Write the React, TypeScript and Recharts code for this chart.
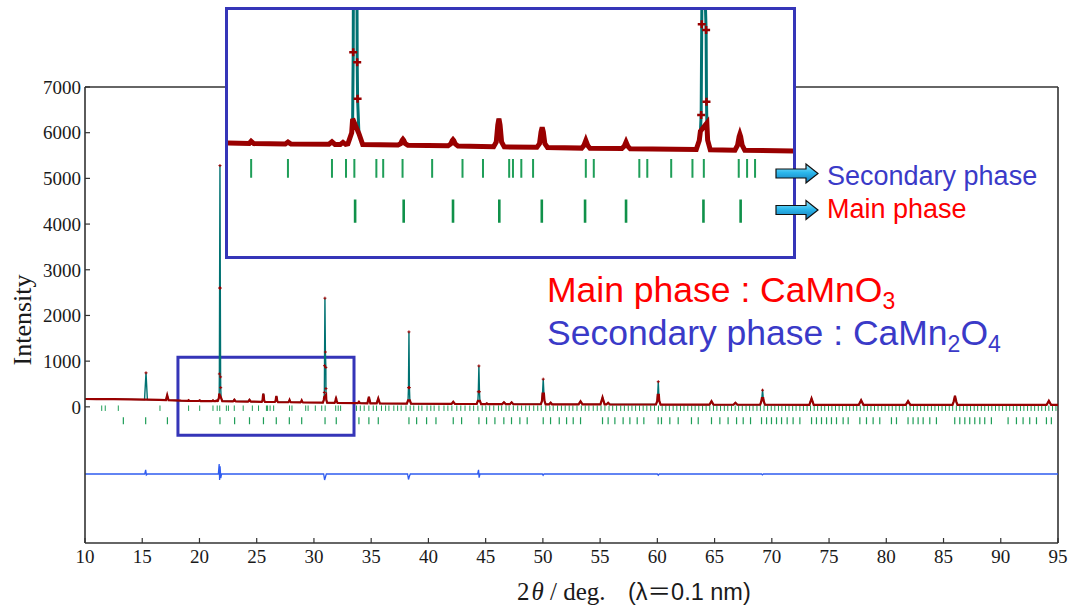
import React from 'react';
import { ComposedChart, Line, XAxis, YAxis, ReferenceLine, ReferenceArea } from 'recharts';

// ---- axis ticks ----
const xTicks = [10, 15, 20, 25, 30, 35, 40, 45, 50, 55, 60, 65, 70, 75, 80, 85, 90, 95];
const yTicks = [0, 1000, 2000, 3000, 4000, 5000, 6000, 7000];

// ---- observed / calculated profile [2theta, intensity] ----
const observedProfile: [number, number][] = [
  [10.0, 172], [11.0, 170], [12.5, 167], [14.0, 163], [15.2, 158], [15.33, 744], [15.45, 157],
  [16.5, 152], [17.07, 148], [17.18, 256], [17.3, 146], [18.4, 134],
  [19.0, 131], [19.05, 145], [19.12, 130], [19.95, 128], [20.02, 140], [20.1, 127],
  [21.1, 126], [21.18, 142], [21.26, 125], [21.4, 125], [21.47, 138], [21.54, 125],
  [21.6, 128], [21.7, 200], [21.725, 290], [21.74, 720], [21.76, 2600], [21.79, 5280],
  [21.82, 2600], [21.845, 655], [21.855, 420], [21.89, 195], [21.99, 124],
  [22.92, 121], [22.99, 130], [23.03, 152], [23.05, 158], [23.07, 152], [23.11, 130], [23.18, 120],
  [24.24, 116], [24.31, 128], [24.35, 150], [24.37, 156], [24.39, 150], [24.43, 128], [24.5, 115],
  [25.44, 110], [25.51, 140], [25.55, 250], [25.58, 290], [25.61, 250], [25.65, 140], [25.72, 109],
  [26.58, 106], [26.65, 130], [26.69, 205], [26.72, 235], [26.75, 205], [26.79, 130], [26.86, 105],
  [27.76, 101], [27.82, 118], [27.87, 150], [27.92, 118], [27.98, 100],
  [28.82, 98], [28.88, 112], [28.93, 140], [28.98, 112], [29.04, 97],
  [30.78, 92], [30.86, 150], [30.89, 210], [30.91, 315], [30.925, 900], [30.96, 2378],
  [31.0, 1200], [31.04, 863], [31.05, 400], [31.06, 263], [31.08, 153], [31.15, 90],
  [31.8, 88], [31.87, 120], [31.91, 175], [31.93, 190], [31.95, 175], [31.99, 120], [32.06, 87],
  [33.83, 80], [33.93, 110], [34.03, 79],
  [34.67, 77], [34.8, 220], [34.93, 76], [35.48, 75], [35.62, 185], [35.76, 74],
  [38.12, 70], [38.22, 140], [38.26, 420], [38.3, 1640], [38.34, 420], [38.38, 140], [38.48, 69],
  [42.02, 64], [42.17, 110], [42.32, 64],
  [44.22, 62], [44.32, 130], [44.36, 330], [44.41, 895], [44.46, 330], [44.5, 130], [44.6, 61],
  [45.0, 61], [45.1, 78], [45.2, 61], [46.45, 60], [46.6, 100], [46.75, 60],
  [47.12, 59], [47.27, 100], [47.42, 59],
  [49.82, 57], [49.92, 130], [49.97, 290], [50.03, 606], [50.09, 290], [50.14, 130], [50.24, 56],
  [50.55, 56], [50.68, 90], [50.8, 56], [53.12, 54], [53.29, 120], [53.46, 54],
  [55.03, 53], [55.21, 205], [55.39, 53], [55.55, 53], [55.7, 90], [55.85, 52],
  [59.88, 51], [59.99, 130], [60.03, 260], [60.08, 550], [60.13, 260], [60.17, 130], [60.28, 50],
  [64.55, 47], [64.73, 125], [64.91, 47], [66.65, 46], [66.82, 88], [66.99, 46],
  [68.98, 46], [69.08, 120], [69.13, 190], [69.19, 365], [69.25, 190], [69.3, 120], [69.4, 46],
  [73.28, 45], [73.47, 183], [73.66, 45], [77.6, 44], [77.8, 146], [78.0, 44],
  [81.7, 44], [81.9, 125], [82.1, 44],
  [85.78, 43], [85.88, 110], [86.0, 241], [86.12, 110], [86.22, 43],
  [94.0, 42], [94.2, 131], [94.4, 42], [95.0, 42],
];

// ---- difference curve (obs - calc, offset) ----
const differenceProfile: [number, number][] = [
  [10.0, -1470], [15.22, -1470], [15.3, -1380], [15.36, -1490], [15.45, -1470],
  [21.65, -1470], [21.72, -1250], [21.76, -1600], [21.8, -1300], [21.86, -1560], [21.93, -1470],
  [30.85, -1470], [30.93, -1600], [31.0, -1540], [31.08, -1470],
  [38.18, -1470], [38.26, -1590], [38.34, -1520], [38.42, -1470],
  [44.3, -1470], [44.38, -1380], [44.43, -1550], [44.5, -1470],
  [49.95, -1470], [50.02, -1500], [50.1, -1470],
  [60.0, -1470], [60.08, -1495], [60.16, -1470],
  [69.1, -1470], [69.18, -1490], [69.26, -1470],
  [95.0, -1470],
];

// ---- reflection markers ----
const secondaryPhaseTicks = [
  11.46, 11.77, 12.91, 16.55, 19.05, 20.02, 21.18, 21.55, 21.77, 22.35, 22.53, 23.04, 23.82,
  24.62, 25.16, 25.85, 25.95, 26.17, 26.48, 27.87, 28.08, 29.28, 29.49, 30.12, 30.68, 30.98,
  31.9, 32.12, 32.33, 33.72, 34.05, 34.39, 34.8, 35.18, 35.47, 35.9, 36.26, 36.55, 36.98,
  37.31, 37.62, 38.04, 38.41, 38.72, 39.15, 39.43, 39.88, 40.21, 40.5, 40.92, 41.36, 41.7,
  42.05, 42.48, 42.83, 43.2, 43.62, 43.95, 44.32, 44.7, 45.02, 45.35, 45.71, 46.12, 46.4,
  46.78, 47.05, 47.42, 47.8, 48.14, 48.5, 48.82, 49.2, 49.55, 49.86, 50.25, 50.6, 50.9,
  51.28, 51.62, 51.95, 52.3, 52.62, 52.98, 53.36, 53.7, 54.02, 54.4, 54.75, 55.08, 55.42,
  55.78, 56.1, 56.44, 56.8, 57.12, 57.46, 57.78, 58.1, 58.44, 58.76, 59.08, 59.42, 59.75,
  60.1, 60.42, 60.74, 61.05, 61.38, 61.7, 62.02, 62.33, 62.66, 63.0, 63.3, 63.62, 63.95,
  64.26, 64.58, 64.9, 65.2, 65.52, 65.85, 66.15, 66.48, 66.8, 67.1, 67.42, 67.75, 68.06,
  68.36, 68.7, 69.0, 69.32, 69.63, 69.95, 70.26, 70.58, 70.88, 71.2, 71.5, 71.82, 72.12,
  72.45, 72.76, 73.08, 73.38, 73.7, 74.0, 74.32, 74.62, 74.95, 75.25, 75.56, 75.88, 76.18,
  76.5, 76.8, 77.12, 77.42, 77.73, 78.05, 78.35, 78.66, 78.97, 79.28, 79.6, 79.9, 80.22,
  80.52, 80.84, 81.14, 81.45, 81.76, 82.08, 82.38, 82.7, 83.0, 83.32, 83.62, 83.94, 84.25,
  84.56, 84.87, 85.18, 85.5, 85.8, 86.12, 86.42, 86.74, 87.05, 87.36, 87.68, 87.98, 88.3,
  88.6, 88.92, 89.22, 89.54, 89.85, 90.16, 90.48, 90.78, 91.1, 91.4, 91.72, 92.02, 92.34,
  92.65, 92.96, 93.28, 93.58, 93.9, 94.2, 94.52, 94.82,
];

const mainPhaseTicks = [
  13.35, 15.3, 17.2, 21.79, 23.07, 24.37, 25.59, 26.71, 27.85, 28.93, 30.97, 31.95, 33.93,
  34.8, 35.62, 38.3, 38.97, 39.84, 40.66, 42.17, 42.9, 44.41, 45.08, 45.81, 46.59, 47.26,
  47.99, 48.63, 50.03, 50.67, 51.43, 52.07, 52.65, 53.29, 55.21, 55.7, 56.29, 57.01, 57.6,
  58.24, 58.82, 60.07, 60.36, 61.09, 61.82, 62.98, 63.57, 64.73, 65.46, 66.18, 66.92, 67.5,
  68.14, 69.1, 69.54, 69.97, 70.41, 70.85, 71.34, 71.86, 72.45, 73.47, 73.9, 74.34, 74.78,
  75.21, 75.65, 76.23, 76.67, 77.69, 78.27, 78.85, 79.43, 80.45, 80.89, 81.9, 82.34, 82.78,
  83.22, 83.8, 84.38, 85.98, 86.42, 86.86, 87.29, 87.73, 88.17, 88.6, 89.18, 90.64, 91.37,
  91.95, 92.53, 93.12, 93.99, 94.42,
];

// marker row extents (intensity units)
const secondaryRow = [30, -90];
const mainRow = [-230, -380];

// zoom window shown in the inset
const zoomWindowX = [18.12, 33.5];
const zoomWindowY = [-620, 1087];
const insetX = [18.44, 33.33];
const insetY = [-595, 992];

// ---- derived tables ----
const MARK_THRESHOLD = 300;
const profileRows = observedProfile.map(([x, v]) => ({
  x,
  calc: v,
  obsLine: v <= MARK_THRESHOLD ? v : null,
  obsMark: v > MARK_THRESHOLD ? v : null,
}));
const diffRows = differenceProfile.map(([x, v]) => ({ x, diff: v }));
const toTickRows = (pos: number[], row: number[]) =>
  pos.flatMap((x) => [{ x, v: row[0] }, { x, v: row[1] }, { x, v: null as number | null }]);
const secRows = toTickRows(secondaryPhaseTicks, secondaryRow);
const mainRows = toTickRows(mainPhaseTicks, mainRow);
const inInset = (x: number) => x >= insetX[0] && x <= insetX[1];
const secRowsInset = toTickRows(secondaryPhaseTicks.filter(inInset), secondaryRow);
const mainRowsInset = toTickRows(mainPhaseTicks.filter(inInset), mainRow);

const RED = '#990000';
const TEAL = '#007272';
const GREEN = '#1f9e58';
const DIFF = '#2f5cf0';
const BOX = '#3535b8';
const AXIS = '#333333';

const plusDot = (size: number, width: number) => (p: any) => {
  if (p.cx == null || p.cy == null || p.value == null) return <g key={`n-${p.index}`} />;
  return (
    <path
      key={`p-${p.index}`}
      d={`M${p.cx - size},${p.cy}H${p.cx + size}M${p.cx},${p.cy - size}V${p.cy + size}`}
      stroke={RED}
      strokeWidth={width}
      fill="none"
    />
  );
};

export default function App() {
  return (
    <div style={{ position: 'absolute', left: 0, top: 0, width: 1071, height: 610, background: '#fff' }}>
      <ComposedChart width={1071} height={610} margin={{ top: 87, right: 13, bottom: 37, left: 0 }}>
        <XAxis
          type="number"
          dataKey="x"
          domain={[10, 95]}
          ticks={xTicks}
          interval={0}
          allowDataOverflow
          height={30}
          tickSize={-5}
          tickMargin={12}
          tick={{ fontFamily: 'Liberation Serif', fontSize: 19, fill: '#1a1a1a' }}
          axisLine={{ stroke: AXIS, strokeWidth: 1.6 }}
          tickLine={{ stroke: AXIS, strokeWidth: 1.2 }}
        />
        <YAxis
          type="number"
          domain={[-2980, 7000]}
          ticks={yTicks}
          interval={0}
          allowDataOverflow
          width={85}
          tickSize={-5}
          tickMargin={9}
          tick={{ fontFamily: 'Liberation Serif', fontSize: 19, fill: '#1a1a1a' }}
          axisLine={{ stroke: AXIS, strokeWidth: 1.6 }}
          tickLine={{ stroke: AXIS, strokeWidth: 1.2 }}
        />
        <ReferenceLine y={7000} stroke={AXIS} strokeWidth={1.6} />
        <ReferenceLine x={95} stroke={AXIS} strokeWidth={1.6} />
        <Line data={secRows} dataKey="v" stroke={GREEN} strokeWidth={1} dot={false} activeDot={false} isAnimationActive={false} />
        <Line data={mainRows} dataKey="v" stroke={GREEN} strokeWidth={1.2} dot={false} activeDot={false} isAnimationActive={false} />
        <Line data={diffRows} dataKey="diff" stroke={DIFF} strokeWidth={1.3} dot={false} activeDot={false} isAnimationActive={false} />
        <Line data={profileRows} dataKey="calc" stroke={TEAL} strokeWidth={1.4} dot={false} activeDot={false} isAnimationActive={false} />
        <Line data={profileRows} dataKey="obsLine" connectNulls stroke={RED} strokeWidth={2.2} dot={false} activeDot={false} isAnimationActive={false} />
        <Line data={profileRows} dataKey="obsMark" stroke="none" dot={plusDot(1.5, 1)} activeDot={false} isAnimationActive={false} />
        <ReferenceArea
          x1={zoomWindowX[0]}
          x2={zoomWindowX[1]}
          y1={zoomWindowY[0]}
          y2={zoomWindowY[1]}
          stroke={BOX}
          strokeWidth={3}
          fill="none"
          fillOpacity={0}
        />
      </ComposedChart>

      <div
        style={{
          position: 'absolute',
          left: 225,
          top: 7,
          width: 571,
          height: 252,
          border: `3px solid ${BOX}`,
          boxSizing: 'border-box',
          background: '#fff',
        }}
      >
        <ComposedChart width={565} height={246} margin={{ top: 0, right: 0, bottom: 0, left: 0 }}>
          <XAxis type="number" dataKey="x" domain={insetX} allowDataOverflow hide />
          <YAxis type="number" domain={insetY} allowDataOverflow hide />
          <Line data={secRowsInset} dataKey="v" stroke={GREEN} strokeWidth={2} dot={false} activeDot={false} isAnimationActive={false} />
          <Line data={mainRowsInset} dataKey="v" stroke="#10914a" strokeWidth={2.6} dot={false} activeDot={false} isAnimationActive={false} />
          <Line data={profileRows} dataKey="calc" stroke={TEAL} strokeWidth={3} dot={false} activeDot={false} isAnimationActive={false} />
          <Line data={profileRows} dataKey="obsLine" connectNulls stroke={RED} strokeWidth={5} dot={false} activeDot={false} isAnimationActive={false} />
          <Line data={profileRows} dataKey="obsMark" stroke="none" dot={plusDot(4, 2.5)} activeDot={false} isAnimationActive={false} />
        </ComposedChart>
      </div>

      <svg
        width={1071}
        height={610}
        style={{ position: 'absolute', left: 0, top: 0, pointerEvents: 'none' }}
      >
        <defs>
          <linearGradient id="arrowFill" x1="0" y1="0" x2="0" y2="1">
            <stop offset="0" stopColor="#9ceaff" />
            <stop offset="0.45" stopColor="#2cb8ec" />
            <stop offset="1" stopColor="#1478b8" />
          </linearGradient>
        </defs>
        {[173.5, 210].map((cy) => (
          <polygon
            key={cy}
            points={`776,${cy - 4.5} 806,${cy - 4.5} 806,${cy - 9.5} 818,${cy} 806,${cy + 9.5} 806,${cy + 4.5} 776,${cy + 4.5}`}
            fill="url(#arrowFill)"
            stroke="#111"
            strokeWidth={1.2}
          />
        ))}
        <text x={827} y={185} fill="#3a3ac8" fontFamily="Liberation Sans" fontSize={27}>
          Secondary phase
        </text>
        <text x={827} y={218} fill="#ff0000" fontFamily="Liberation Sans" fontSize={27}>
          Main phase
        </text>

        <text x={547} y={302} fill="#ff0000" fontFamily="Liberation Sans" fontSize={35.5}>
          Main phase : CaMnO<tspan fontSize={23} dy={7}>3</tspan>
        </text>
        <text x={547} y={345} fill="#3a3ac8" fontFamily="Liberation Sans" fontSize={35.5}>
          Secondary phase : CaMn<tspan fontSize={23} dy={7}>2</tspan>
          <tspan fontSize={35.5} dy={-7}>O</tspan>
          <tspan fontSize={23} dy={7}>4</tspan>
        </text>

        <text
          x={31}
          y={320}
          transform="rotate(-90, 31, 320)"
          textAnchor="middle"
          fontFamily="Liberation Serif"
          fontSize={26}
          fill="#1a1a1a"
        >
          Intensity
        </text>
        <text x={517} y={600} fontFamily="Liberation Serif" fontSize={25} fill="#1a1a1a">
          2<tspan fontStyle="italic" dx={2}>θ</tspan> / deg.
        </text>
        <text x={628} y={600} fontFamily="Liberation Sans, Noto Sans CJK JP" fontSize={23.5} fill="#1a1a1a">
          (λ＝0.1 nm)
        </text>
      </svg>
    </div>
  );
}
